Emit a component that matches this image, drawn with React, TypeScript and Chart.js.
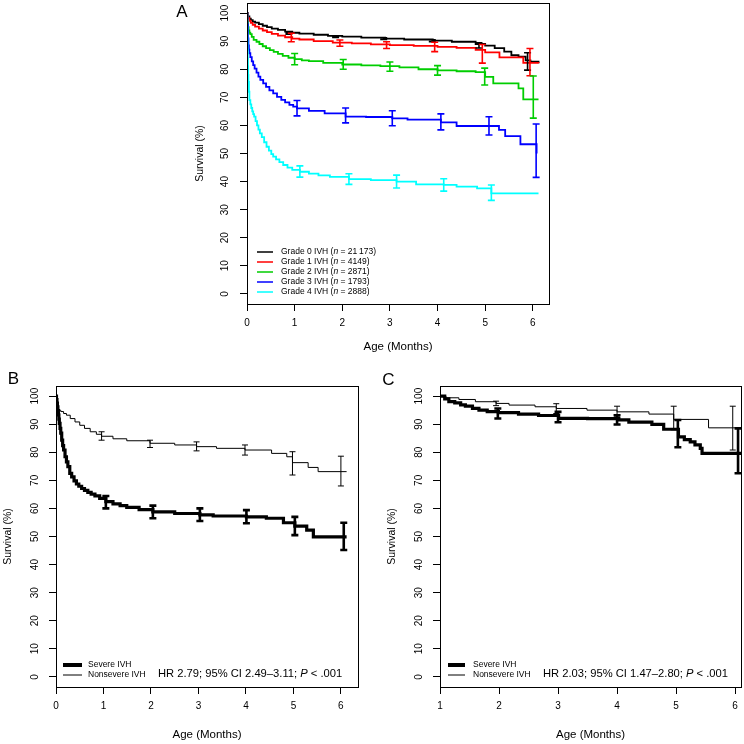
import React, { useEffect, useRef } from "react";
import { Chart, registerables } from "chart.js";
Chart.register(...registerables);

const FONT = "'Liberation Sans', Arial, Helvetica, sans-serif";

// ---------- shared ticks ----------
const yTicks = [0, 10, 20, 30, 40, 50, 60, 70, 80, 90, 100];
const abXTicks = [0, 1, 2, 3, 4, 5, 6];
const cXTicks = [1, 2, 3, 4, 5, 6];

// ---------- Panel A ----------
const aLegendLabels = ["Grade 0 IVH", "Grade 1 IVH", "Grade 2 IVH", "Grade 3 IVH", "Grade 4 IVH"];
const aLegendN = ["21\u2009173", "4149", "2871", "1793", "2888"];
const aColors = ["#000000", "#ff0000", "#00cd00", "#0000ff", "#00ffff"];

const g0X = [0, 0.02, 0.05, 0.08, 0.12, 0.17, 0.25, 0.33, 0.42, 0.52, 0.65, 0.8, 0.95, 1.1, 1.4, 1.7, 2.0, 2.4, 2.9, 3.3, 3.9, 4.3, 4.8, 5.0, 5.2, 5.4, 5.55, 5.7, 5.85, 5.95, 6.12];
const g0Y = [100, 98.8, 98.0, 97.5, 97.0, 96.6, 96.1, 95.5, 95.0, 94.5, 94.0, 93.4, 93.0, 92.7, 92.3, 91.9, 91.6, 91.3, 90.9, 90.6, 90.2, 89.8, 89.0, 88.4, 87.5, 86.3, 85.0, 84.5, 83.2, 82.7, 82.1];
const g0ErrX = [0.88, 1.86, 2.87, 3.89, 4.87, 5.89];
const g0ErrLo = [92.5, 91.3, 90.6, 89.8, 87.6, 79.7];
const g0ErrHi = [93.1, 91.9, 91.2, 90.5, 89.4, 85.9];

const g1X = [0, 0.02, 0.05, 0.08, 0.12, 0.17, 0.25, 0.33, 0.42, 0.52, 0.65, 0.8, 0.95, 1.1, 1.4, 1.8, 2.2, 2.6, 3.0, 3.5, 4.0, 4.4, 4.8, 5.0, 5.3, 5.8, 6.12];
const g1Y = [100, 98.2, 97.2, 96.5, 95.8, 95.2, 94.5, 93.8, 93.2, 92.6, 92.0, 91.4, 90.9, 90.6, 90.0, 89.5, 89.2, 88.9, 88.6, 88.3, 88.0, 87.6, 86.9, 86.0, 84.2, 82.3, 82.1];
const g1ErrX = [0.93, 1.95, 2.93, 3.94, 4.94, 5.94];
const g1ErrLo = [89.8, 88.2, 87.4, 86.3, 82.2, 77.7];
const g1ErrHi = [92.8, 90.4, 89.8, 89.6, 88.8, 87.4];

const g2X = [0, 0.01, 0.02, 0.035, 0.05, 0.07, 0.1, 0.14, 0.2, 0.26, 0.33, 0.4, 0.48, 0.56, 0.65, 0.75, 0.87, 1.0, 1.15, 1.3, 1.6, 2.0, 2.4, 2.8, 3.2, 3.6, 4.0, 4.4, 4.8, 5.0, 5.17, 5.7, 5.8, 6.12];
const g2Y = [100, 97, 95, 93.8, 93, 92.5, 91.5, 90.5, 89.8, 89.0, 88.2, 87.5, 86.8, 86.2, 85.5, 84.8, 84.1, 83.6, 83.2, 82.9, 82.3, 81.7, 81.4, 81.1, 80.7, 80.0, 79.6, 79.3, 79.0, 77.3, 75.0, 73.2, 69.3, 69.3];
const g2ErrX = [1.0, 2.02, 3.0, 4.0, 4.99, 6.01];
const g2ErrLo = [81.6, 80.0, 79.3, 77.9, 74.4, 62.6];
const g2ErrHi = [85.6, 83.5, 82.6, 81.3, 80.4, 77.6];

const g3X = [0, 0.01, 0.02, 0.03, 0.04, 0.05, 0.07, 0.1, 0.13, 0.16, 0.2, 0.24, 0.28, 0.34, 0.4, 0.47, 0.55, 0.63, 0.72, 0.8, 0.89, 0.97, 1.05, 1.3, 1.63, 2.07, 2.5, 3.05, 3.37, 4.07, 4.4, 5.08, 5.29, 5.42, 5.74, 6.04, 6.08];
const g3Y = [100, 96, 91, 88.5, 87, 85.7, 84.3, 82.8, 81.5, 80.2, 78.8, 77.4, 76.2, 75.0, 73.7, 72.5, 71.4, 70.2, 69.1, 68.2, 67.3, 66.7, 66.1, 65.2, 64.3, 63.1, 63.0, 62.5, 62.1, 61.1, 59.8, 59.8, 58.4, 56.2, 53.3, 53.3, 50.0];
const g3ErrX = [1.05, 2.07, 3.05, 4.07, 5.08, 6.07];
const g3ErrLo = [63.4, 60.9, 59.9, 58.4, 56.6, 41.5];
const g3ErrHi = [68.9, 66.2, 65.2, 64.1, 63.1, 60.5];

const g4X = [0, 0.004, 0.008, 0.012, 0.016, 0.02, 0.025, 0.03, 0.04, 0.05, 0.07, 0.09, 0.11, 0.13, 0.15, 0.18, 0.21, 0.24, 0.27, 0.31, 0.36, 0.41, 0.46, 0.51, 0.55, 0.61, 0.68, 0.76, 0.85, 0.95, 1.11, 1.3, 1.5, 1.74, 2.14, 2.6, 3.14, 3.55, 4.13, 4.4, 4.83, 5.13, 6.12];
const g4Y = [100, 95, 91, 87, 84, 81, 78, 75.5, 72, 69.0, 67.5, 66.2, 65.0, 64.0, 63.1, 61.5, 60.0, 58.5, 57.2, 55.8, 54.0, 52.4, 51.0, 49.8, 48.9, 47.9, 46.9, 45.9, 45.0, 44.2, 43.5, 42.8, 42.2, 41.7, 40.9, 40.5, 40.0, 39.0, 38.8, 38.2, 37.6, 35.8, 35.8];
const g4ErrX = [1.11, 2.14, 3.14, 4.13, 5.13];
const g4ErrLo = [41.6, 39.0, 37.7, 36.6, 33.3];
const g4ErrHi = [45.6, 42.8, 42.3, 41.0, 38.8];

// ---------- Panel B ----------
const bLegendLabels = ["Severe IVH", "Nonsevere IVH"];
const bHR = "2.79";
const bCI = "2.49\u20133.11";
const bP = ".001";

const bSevX = [0, 0.01, 0.02, 0.03, 0.04, 0.05, 0.06, 0.07, 0.085, 0.1, 0.12, 0.14, 0.16, 0.19, 0.22, 0.25, 0.29, 0.33, 0.38, 0.43, 0.48, 0.54, 0.6, 0.67, 0.74, 0.82, 0.92, 1.05, 1.2, 1.35, 1.49, 1.75, 2.04, 2.5, 3.03, 3.31, 4.01, 4.43, 4.79, 5.03, 5.28, 5.42, 6.12];
const bSevY = [100, 98.8, 97.5, 96.2, 94.8, 93.3, 91.8, 90.3, 88.5, 86.8, 84.3, 82.4, 80.8, 78.4, 76.6, 74.9, 72.5, 71.2, 69.8, 68.7, 67.9, 67.1, 66.4, 65.7, 65.1, 64.5, 63.6, 62.4, 61.6, 61.0, 60.4, 59.6, 58.8, 58.2, 57.7, 57.3, 57.0, 56.5, 54.9, 53.7, 52.3, 49.9, 49.9];
const bSevErrX = [1.05, 2.04, 3.03, 4.01, 5.03, 6.06];
const bSevErrLo = [60.0, 56.5, 55.5, 54.7, 50.5, 45.2];
const bSevErrHi = [64.4, 61.0, 60.0, 59.4, 57.0, 54.9];

const bNonX = [0, 0.01, 0.02, 0.05, 0.1, 0.16, 0.22, 0.3, 0.4, 0.5, 0.6, 0.72, 0.85, 0.96, 1.2, 1.49, 1.98, 2.5, 2.96, 3.38, 3.98, 4.54, 4.86, 4.98, 5.31, 5.52, 6.12];
const bNonY = [100, 98, 96.5, 95.0, 94.5, 93.8, 93.2, 92.0, 90.8, 89.6, 88.5, 87.3, 86.4, 85.7, 84.8, 84.1, 83.2, 82.6, 82.0, 81.4, 80.8, 79.6, 78.4, 76.3, 74.6, 73.1, 73.1];
const bNonErrX = [0.96, 1.98, 2.96, 3.98, 4.98, 6.0];
const bNonErrLo = [84.3, 81.7, 80.5, 79.0, 71.9, 68.0];
const bNonErrHi = [87.3, 84.3, 83.7, 82.6, 80.2, 78.6];

// ---------- Panel C ----------
const cHR = "2.03";
const cCI = "1.47\u20132.80";
const cP = ".001";

const cSevX = [1, 1.08, 1.15, 1.25, 1.35, 1.43, 1.55, 1.66, 1.8, 1.99, 2.33, 2.67, 3.01, 3.5, 4.03, 4.2, 4.59, 4.79, 5.04, 5.14, 5.24, 5.32, 5.41, 5.44, 6.1];
const cSevY = [100, 99.0, 98.0, 97.6, 96.9, 96.4, 95.6, 95.0, 94.5, 94.1, 93.6, 93.1, 92.1, 92.0, 91.5, 90.7, 89.9, 88.2, 85.5, 84.5, 83.7, 82.6, 81.4, 79.6, 79.6];
const cSevErrX = [1.98, 3.0, 4.0, 5.03, 6.05];
const cSevErrLo = [92.0, 90.7, 89.9, 81.8, 72.5];
const cSevErrHi = [95.6, 94.4, 93.2, 91.5, 88.5];

const cNonX = [1, 1.1, 1.32, 1.6, 1.95, 2.17, 2.61, 2.97, 3.49, 4.0, 4.54, 4.96, 5.55, 6.1];
const cNonY = [100, 99.4, 98.8, 98.0, 97.4, 96.8, 96.2, 95.6, 95.0, 94.4, 93.6, 91.7, 88.7, 88.7];
const cNonErrX = [1.95, 2.97, 4.0, 4.96, 5.96];
const cNonErrLo = [96.6, 93.8, 92.6, 88.0, 80.8];
const cNonErrHi = [98.2, 97.3, 96.4, 96.4, 96.4];

// ---------- helpers ----------
type Part = { text: string; italic?: boolean };

function series(
  x: number[], y: number[], color: string, width: number,
  errX: number[], errLo: number[], errHi: number[], errWidth: number, cap: number, order: number
): any {
  return {
    type: "line",
    data: x.map((v, i) => ({ x: v, y: y[i] })),
    borderColor: color,
    borderWidth: width,
    pointRadius: 0,
    pointHoverRadius: 0,
    stepped: true,
    fill: false,
    order,
    errX, errLo, errHi, errWidth, cap,
  };
}

function drawRich(ctx: CanvasRenderingContext2D, parts: Part[], x: number, y: number, size: number) {
  let cx = x;
  ctx.textBaseline = "middle";
  ctx.textAlign = "left";
  for (const p of parts) {
    ctx.font = `${p.italic ? "italic " : ""}${size}px ${FONT}`;
    ctx.fillText(p.text, cx, y);
    cx += ctx.measureText(p.text).width;
  }
}

const errorBarPlugin = {
  id: "errorBars",
  afterDatasetsDraw(chart: any) {
    const { ctx } = chart;
    const xs = chart.scales.x;
    const ys = chart.scales.y;
    chart.data.datasets.forEach((ds: any) => {
      if (!ds.errX) return;
      ctx.save();
      ctx.strokeStyle = ds.borderColor;
      ctx.lineWidth = ds.errWidth;
      ctx.lineCap = "butt";
      ds.errX.forEach((xv: number, i: number) => {
        const px = xs.getPixelForValue(xv);
        const pl = ys.getPixelForValue(ds.errLo[i]);
        const ph = ys.getPixelForValue(ds.errHi[i]);
        ctx.beginPath();
        ctx.moveTo(px, pl);
        ctx.lineTo(px, ph);
        ctx.moveTo(px - ds.cap, pl);
        ctx.lineTo(px + ds.cap, pl);
        ctx.moveTo(px - ds.cap, ph);
        ctx.lineTo(px + ds.cap, ph);
        ctx.stroke();
      });
      ctx.restore();
    });
  },
};

const boxPlugin = {
  id: "boxFrame",
  afterDraw(chart: any) {
    const { ctx, chartArea: a } = chart;
    ctx.save();
    ctx.strokeStyle = "#000";
    ctx.lineWidth = 1;
    ctx.strokeRect(Math.round(a.left) + 0.5, Math.round(a.top) + 0.5, Math.round(a.right - a.left), Math.round(a.bottom - a.top));
    ctx.restore();
  },
};

interface LegendCfg {
  x1: number; x2: number; textX: number; ys: number[]; colors: string[]; widths: number[]; labels: Part[][]; size: number;
}
interface PanelCfg {
  left: number; top: number; width: number; height: number;
  pad: { left: number; top: number; right: number; bottom: number };
  yAxisWidth: number; xAxisHeight: number;
  xMin: number; xMax: number; xTicks: number[];
  yTitlePad: number; xTitlePad: number; yTickPad: number; xTickPad: number;
  datasets: any[];
  letter: { text: string; x: number; y: number };
  legend: LegendCfg;
  hr?: { x: number; y: number; parts: Part[]; size: number };
}

function annotPlugin(cfg: PanelCfg) {
  return {
    id: "annot",
    afterDraw(chart: any) {
      const ctx: CanvasRenderingContext2D = chart.ctx;
      ctx.save();
      ctx.fillStyle = "#000";
      ctx.font = `17px ${FONT}`;
      ctx.textAlign = "center";
      ctx.textBaseline = "middle";
      ctx.fillText(cfg.letter.text, cfg.letter.x, cfg.letter.y);
      const L = cfg.legend;
      L.ys.forEach((y, i) => {
        ctx.strokeStyle = L.colors[i];
        ctx.lineWidth = L.widths[i];
        ctx.beginPath();
        ctx.moveTo(L.x1, y);
        ctx.lineTo(L.x2, y);
        ctx.stroke();
        ctx.fillStyle = "#000";
        drawRich(ctx, L.labels[i], L.textX, y, L.size);
      });
      if (cfg.hr) drawRich(ctx, cfg.hr.parts, cfg.hr.x, cfg.hr.y, cfg.hr.size);
      ctx.restore();
    },
  };
}

function Panel({ cfg }: { cfg: PanelCfg }) {
  const ref = useRef<HTMLCanvasElement>(null);
  useEffect(() => {
    const tickGrid = { drawOnChartArea: false, drawTicks: true, tickLength: 7, color: "#000", lineWidth: 1 };
    const chart = new Chart(ref.current as HTMLCanvasElement, {
      type: "line",
      data: { datasets: cfg.datasets },
      options: {
        animation: false,
        responsive: false,
        devicePixelRatio: 1,
        events: [],
        layout: { padding: cfg.pad },
        plugins: { legend: { display: false }, tooltip: { enabled: false }, title: { display: false } },
        scales: {
          x: {
            type: "linear",
            min: cfg.xMin,
            max: cfg.xMax,
            afterBuildTicks: (s: any) => { s.ticks = cfg.xTicks.map((v) => ({ value: v })); },
            afterFit: (s: any) => { s.height = cfg.xAxisHeight; s.paddingLeft = 0; s.paddingRight = 0; },
            grid: tickGrid,
            border: { display: false },
            ticks: { color: "#000", font: { family: FONT, size: 10 }, padding: cfg.xTickPad, maxRotation: 0, minRotation: 0, autoSkip: false },
            title: { display: true, text: "Age (Months)", color: "#000", font: { family: FONT, size: 11.5 }, padding: { top: 0, bottom: cfg.xTitlePad } },
          },
          y: {
            type: "linear",
            min: -3.6,
            max: 103.6,
            afterBuildTicks: (s: any) => { s.ticks = yTicks.map((v) => ({ value: v })); },
            afterFit: (s: any) => { s.width = cfg.yAxisWidth; s.paddingTop = 0; s.paddingBottom = 0; },
            grid: tickGrid,
            border: { display: false },
            ticks: { color: "#000", font: { family: FONT, size: 10 }, padding: cfg.yTickPad, minRotation: 90, maxRotation: 90, crossAlign: "center", autoSkip: false },
            title: { display: true, text: "Survival (%)", color: "#000", font: { family: FONT, size: 10.5 }, padding: { top: cfg.yTitlePad, bottom: 0 } },
          },
        },
      } as any,
      plugins: [errorBarPlugin, boxPlugin, annotPlugin(cfg)],
    });
    return () => chart.destroy();
  }, [cfg]);
  return (
    <canvas
      ref={ref}
      width={cfg.width}
      height={cfg.height}
      style={{ position: "absolute", left: cfg.left, top: cfg.top, width: cfg.width, height: cfg.height }}
    />
  );
}

const hrParts = (hr: string, ci: string, p: string): Part[] => [
  { text: `HR ${hr}; 95% CI ${ci}; ` },
  { text: "P", italic: true },
  { text: ` < ${p}` },
];

const cfgA: PanelCfg = {
  left: 150, top: 0, width: 420, height: 365,
  pad: { left: 0, top: 3, right: 21, bottom: 0 },
  yAxisWidth: 97, xAxisHeight: 61,
  xMin: 0, xMax: 6.34, xTicks: abXTicks,
  yTitlePad: 43.7, xTitlePad: 11, yTickPad: 6, xTickPad: 6,
  datasets: [
    series(g0X, g0Y, aColors[0], 1.8, g0ErrX, g0ErrLo, g0ErrHi, 1.6, 3.5, 4),
    series(g1X, g1Y, aColors[1], 1.8, g1ErrX, g1ErrLo, g1ErrHi, 1.6, 3.5, 3),
    series(g2X, g2Y, aColors[2], 1.8, g2ErrX, g2ErrLo, g2ErrHi, 1.6, 3.5, 2),
    series(g3X, g3Y, aColors[3], 1.8, g3ErrX, g3ErrLo, g3ErrHi, 1.6, 3.5, 1),
    series(g4X, g4Y, aColors[4], 1.8, g4ErrX, g4ErrLo, g4ErrHi, 1.6, 3.5, 0),
  ],
  letter: { text: "A", x: 32, y: 12 },
  legend: {
    x1: 107, x2: 123, textX: 131, ys: [252, 262, 272, 282, 292],
    colors: aColors, widths: [1.5, 1.5, 1.5, 1.5, 1.5],
    labels: aLegendLabels.map((l, i) => [
      { text: `${l} (` }, { text: "n", italic: true }, { text: ` = ${aLegendN[i]})` },
    ]),
    size: 8.5,
  },
};

const cfgB: PanelCfg = {
  left: 0, top: 370, width: 372, height: 374,
  pad: { left: 0, top: 16, right: 14, bottom: 0 },
  yAxisWidth: 56, xAxisHeight: 57,
  xMin: 0, xMax: 6.36, xTicks: abXTicks,
  yTitlePad: 1.7, xTitlePad: 2, yTickPad: 5.5, xTickPad: 6,
  datasets: [
    series(bSevX, bSevY, "#000", 3.2, bSevErrX, bSevErrLo, bSevErrHi, 2.6, 3.5, 0),
    series(bNonX, bNonY, "#000", 1, bNonErrX, bNonErrLo, bNonErrHi, 1, 3, 1),
  ],
  letter: { text: "B", x: 13.5, y: 9 },
  legend: {
    x1: 63, x2: 82, textX: 88, ys: [295, 305],
    colors: ["#000", "#000"], widths: [4, 1],
    labels: bLegendLabels.map((l) => [{ text: l }]),
    size: 8.5,
  },
  hr: { x: 158, y: 304, parts: hrParts(bHR, bCI, bP), size: 11.2 },
};

const cfgC: PanelCfg = {
  left: 372, top: 370, width: 372, height: 374,
  pad: { left: 0, top: 16, right: 3, bottom: 0 },
  yAxisWidth: 68, xAxisHeight: 57,
  xMin: 1, xMax: 6.1, xTicks: cXTicks,
  yTitlePad: 13.7, xTitlePad: 2, yTickPad: 5.8, xTickPad: 6,
  datasets: [
    series(cSevX, cSevY, "#000", 3.2, cSevErrX, cSevErrLo, cSevErrHi, 2.6, 3.5, 0),
    series(cNonX, cNonY, "#000", 1, cNonErrX, cNonErrLo, cNonErrHi, 1, 3, 1),
  ],
  letter: { text: "C", x: 16.5, y: 10 },
  legend: {
    x1: 76, x2: 93, textX: 101, ys: [295, 305],
    colors: ["#000", "#000"], widths: [4, 1],
    labels: bLegendLabels.map((l) => [{ text: l }]),
    size: 8.5,
  },
  hr: { x: 171, y: 304, parts: hrParts(cHR, cCI, cP), size: 11.2 },
};

export default function App() {
  return (
    <div style={{ position: "absolute", left: 0, top: 0, width: 744, height: 744, background: "#fff", overflow: "hidden" }}>
      <Panel cfg={cfgA} />
      <Panel cfg={cfgB} />
      <Panel cfg={cfgC} />
    </div>
  );
}
